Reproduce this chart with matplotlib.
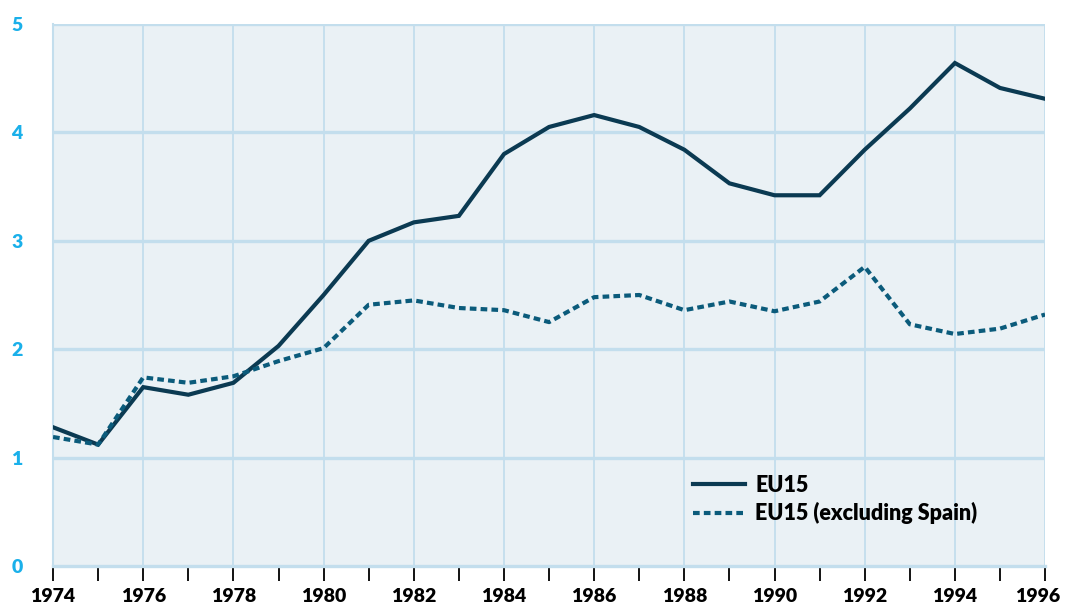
import matplotlib
matplotlib.use("Agg")
import matplotlib.pyplot as plt
import matplotlib.transforms as mtransforms
from matplotlib.ticker import MultipleLocator

years = list(range(1974, 1997))
eu15 = [1.28, 1.12, 1.65, 1.58, 1.69, 2.03, 2.50, 3.00, 3.17, 3.23, 3.80, 4.05,
        4.16, 4.05, 3.84, 3.53, 3.42, 3.42, 3.84, 4.22, 4.64, 4.41, 4.31]
eu15_ex_spain = [1.19, 1.12, 1.74, 1.69, 1.75, 1.89, 2.01, 2.41, 2.45, 2.38, 2.36, 2.25,
                 2.48, 2.50, 2.36, 2.44, 2.35, 2.44, 2.76, 2.23, 2.14, 2.19, 2.32]
series_labels = ["EU15", "EU15 (excluding Spain)"]
x_ticks = list(range(1974, 1997, 2))
y_ticks = [0, 1, 2, 3, 4, 5]

plt.rcParams['font.family'] = ['Lato', 'DejaVu Sans']

fig = plt.figure(figsize=(10.65, 6.09), dpi=100)
ax = fig.add_axes([0.0498, 0.0706, 0.9315, 0.8900])
ax.set_facecolor('#eaf1f5')

ax.plot(years, eu15, color='#0b3a52', lw=3.0, solid_joinstyle='miter', label=series_labels[0], zorder=3)
ax.plot(years, eu15_ex_spain, color='#0b5b7b', lw=3.0, linestyle=(0, (1.6, 1.0)),
        label=series_labels[1], zorder=3)

ax.set_xlim(1974, 1996)
ax.set_ylim(0, 5)

ax.set_xticks(x_ticks)
ax.xaxis.set_minor_locator(MultipleLocator(1))
ax.set_yticks(y_ticks)

for x in x_ticks[1:-1]:
    ax.axvline(x, color='#c3deed', lw=1.3, zorder=1)
for y in y_ticks[1:]:
    ax.axhline(y, color='#c3deed', lw=2.4, zorder=1)

for s in ['top', 'right']:
    ax.spines[s].set_visible(False)
ax.spines['left'].set_color('#c3deed')
ax.spines['left'].set_linewidth(1.5)
ax.spines['bottom'].set_color('#c3deed')
ax.spines['bottom'].set_linewidth(2.4)
ax.axvline(1996, color='#c3deed', lw=1.3, zorder=1)

ax.tick_params(axis='x', which='both', direction='out', length=11, width=1.3, color='black',
               pad=5, labelsize=14)
ax.tick_params(axis='y', which='both', length=0, pad=22, labelsize=14, labelcolor='#1ab0ea')
xlabels = ax.get_xticklabels()
for lbl in xlabels:
    lbl.set_fontweight('heavy')
for lbl in ax.get_yticklabels():
    lbl.set_fontweight('heavy')
# nudge the last x label left so it stays inside the figure
last = xlabels[-1]
last.set_transform(last.get_transform() + mtransforms.ScaledTranslation(-7 / 100, 0, fig.dpi_scale_trans))

leg = ax.legend(loc='upper left', bbox_to_anchor=(0.645, 0.168), frameon=False,
                prop={'weight': 'heavy', 'size': 15.5}, handlelength=2.4, handletextpad=0.5,
                labelspacing=0.3, borderpad=0, borderaxespad=0)

fig.savefig('out.png', dpi=100)
